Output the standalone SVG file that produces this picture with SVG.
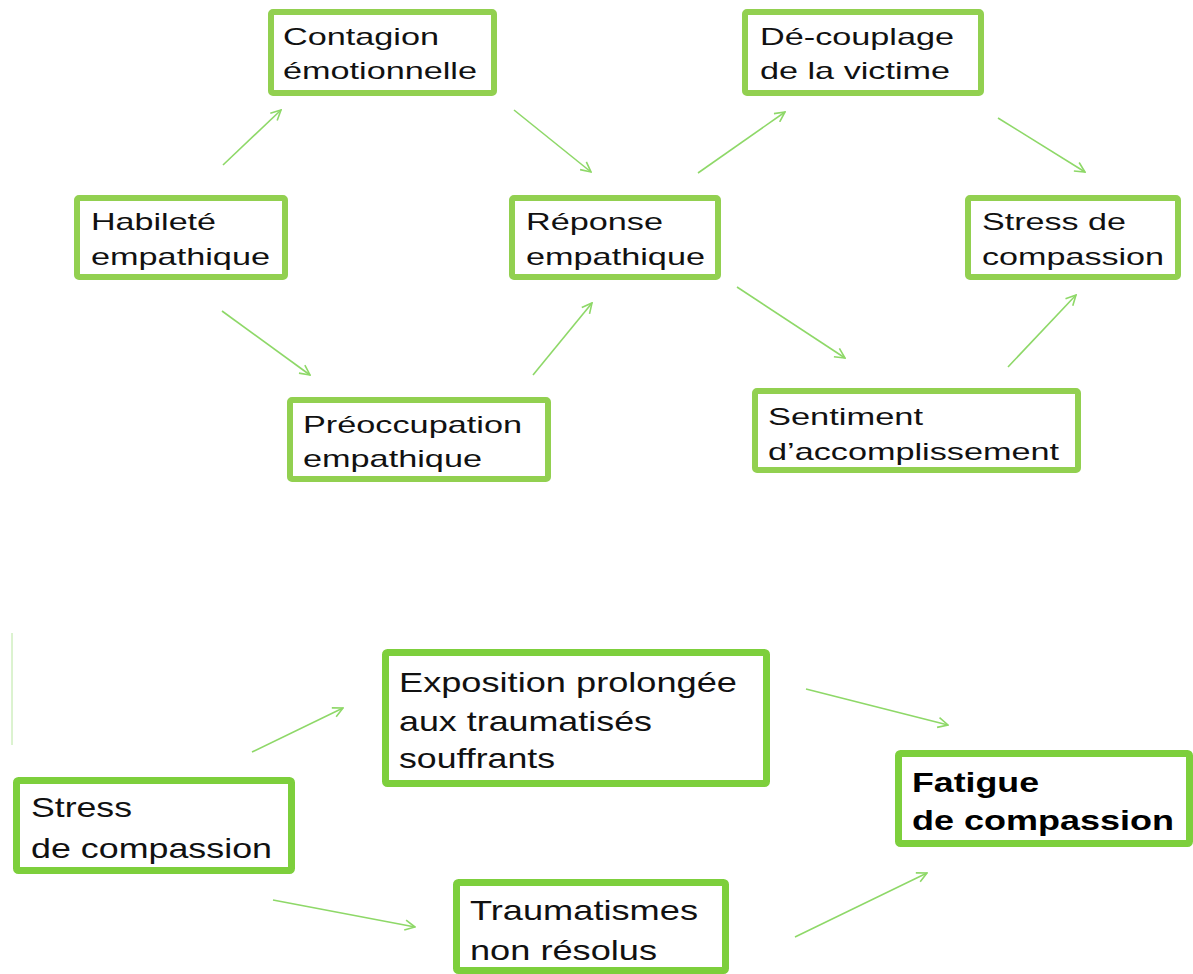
<svg xmlns="http://www.w3.org/2000/svg" width="1193" height="974" viewBox="0 0 1193 974">
<defs>
<style>
.box1{fill:#fff;stroke:#92d050;stroke-width:6}
.box2{fill:#fff;stroke:#7dcf3c;stroke-width:7}
.t1{font-family:"Liberation Sans",Arial,sans-serif;font-size:24px;fill:#111}
.t2{font-family:"Liberation Sans",Arial,sans-serif;font-size:28px;fill:#111}
.tb{font-family:"Liberation Sans",Arial,sans-serif;font-size:28px;font-weight:bold;fill:#000}
.arr{stroke:#8ed868;stroke-width:1.6;fill:none;marker-end:url(#ah)}
</style>
<marker id="ah" viewBox="0 0 12 12" refX="11" refY="6" markerWidth="12" markerHeight="12" markerUnits="userSpaceOnUse" orient="auto">
<path d="M1,1 L11,6 L1,11" fill="none" stroke="#8ed868" stroke-width="1.6"/>
</marker>
</defs>
<rect width="1193" height="974" fill="#fff"/>
<g id="connectors">
<path class="arr" d="M223,165 L281,110"/>
<path class="arr" d="M514,110 L591,172"/>
<path class="arr" d="M698,173 L785,112"/>
<path class="arr" d="M998,118 L1085,172"/>
<path class="arr" d="M222,311 L310,375"/>
<path class="arr" d="M533,375 L592,303"/>
<path class="arr" d="M737,287 L845,358"/>
<path class="arr" d="M1008,367 L1076,295"/>
<path class="arr" d="M252,752 L343,708"/>
<path class="arr" d="M806,689 L948,725"/>
<path class="arr" d="M273,900 L415,927"/>
<path class="arr" d="M795,937 L927,873"/>
<line x1="12" y1="633" x2="12" y2="745" stroke="#b8e6a0" stroke-width="1"/>
</g>
<g id="contagion">
<rect class="box1" x="271" y="12" width="223" height="81" rx="2"/>
<text class="t1" x="283" y="45" textLength="156" lengthAdjust="spacingAndGlyphs">Contagion</text>
<text class="t1" x="283" y="79" textLength="194" lengthAdjust="spacingAndGlyphs">émotionnelle</text>
</g>
<g id="decouplage">
<rect class="box1" x="745" y="12" width="236" height="81" rx="2"/>
<text class="t1" x="760" y="45" textLength="194" lengthAdjust="spacingAndGlyphs">Dé-couplage</text>
<text class="t1" x="760" y="79" textLength="190" lengthAdjust="spacingAndGlyphs">de la victime</text>
</g>
<g id="habilete">
<rect class="box1" x="77" y="198" width="208" height="79" rx="2"/>
<text class="t1" x="91" y="230" textLength="125" lengthAdjust="spacingAndGlyphs">Habileté</text>
<text class="t1" x="91" y="265" textLength="179" lengthAdjust="spacingAndGlyphs">empathique</text>
</g>
<g id="reponse">
<rect class="box1" x="512" y="198" width="206" height="79" rx="2"/>
<text class="t1" x="526" y="230" textLength="137" lengthAdjust="spacingAndGlyphs">Réponse</text>
<text class="t1" x="526" y="265" textLength="179" lengthAdjust="spacingAndGlyphs">empathique</text>
</g>
<g id="stress-top">
<rect class="box1" x="968" y="198" width="210" height="79" rx="2"/>
<text class="t1" x="982" y="230" textLength="144" lengthAdjust="spacingAndGlyphs">Stress de</text>
<text class="t1" x="982" y="265" textLength="182" lengthAdjust="spacingAndGlyphs">compassion</text>
</g>
<g id="preoccupation">
<rect class="box1" x="290" y="400" width="258" height="79" rx="2"/>
<text class="t1" x="303" y="433" textLength="219" lengthAdjust="spacingAndGlyphs">Préoccupation</text>
<text class="t1" x="303" y="467" textLength="179" lengthAdjust="spacingAndGlyphs">empathique</text>
</g>
<g id="sentiment">
<rect class="box1" x="755" y="391" width="323" height="79" rx="2"/>
<text class="t1" x="768" y="425" textLength="155" lengthAdjust="spacingAndGlyphs">Sentiment</text>
<text class="t1" x="768" y="460" textLength="291" lengthAdjust="spacingAndGlyphs">d’accomplissement</text>
</g>
<g id="exposition">
<rect class="box2" x="385.5" y="652.5" width="381" height="131" rx="2"/>
<text class="t2" x="399" y="692" textLength="338" lengthAdjust="spacingAndGlyphs">Exposition prolongée</text>
<text class="t2" x="399" y="731" textLength="253" lengthAdjust="spacingAndGlyphs">aux traumatisés</text>
<text class="t2" x="399" y="768" textLength="156" lengthAdjust="spacingAndGlyphs">souffrants</text>
</g>
<g id="stress-bottom">
<rect class="box2" x="16.5" y="780.5" width="275" height="90" rx="2"/>
<text class="t2" x="31" y="817" textLength="101" lengthAdjust="spacingAndGlyphs">Stress</text>
<text class="t2" x="31" y="858" textLength="241" lengthAdjust="spacingAndGlyphs">de compassion</text>
</g>
<g id="fatigue">
<rect class="box2" x="898.5" y="753.5" width="291" height="90" rx="2"/>
<text class="tb" x="912" y="792" textLength="127" lengthAdjust="spacingAndGlyphs">Fatigue</text>
<text class="tb" x="912" y="830" textLength="262" lengthAdjust="spacingAndGlyphs">de compassion</text>
</g>
<g id="traumatismes">
<rect class="box2" x="456.5" y="882.5" width="269" height="88" rx="2"/>
<text class="t2" x="470" y="920" textLength="228" lengthAdjust="spacingAndGlyphs">Traumatismes</text>
<text class="t2" x="470" y="960" textLength="187" lengthAdjust="spacingAndGlyphs">non résolus</text>
</g>
</svg>
